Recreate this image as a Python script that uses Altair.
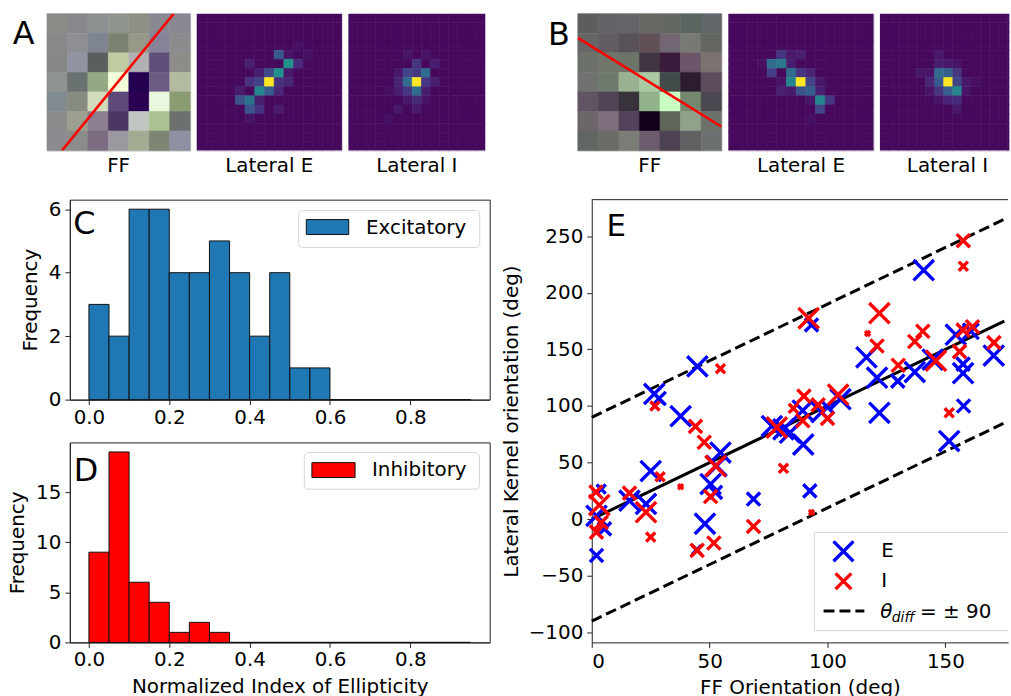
import altair as alt
import pandas as pd

FONT = "DejaVu Sans"

# ---------------- Panels A / B : feed-forward images (7x7 RGB) ----------------
ff_a_colors = [
    ["#8c8c88", "#87888d", "#8d9091", "#90958d", "#8f8f86", "#8a8891", "#898792"],
    ["#888789", "#8e8f94", "#7e8492", "#7a826f", "#979886", "#868298", "#8b8c8e"],
    ["#868885", "#9394a2", "#5a5e5f", "#bfcca2", "#b2b0b4", "#604e7a", "#8d8c88"],
    ["#8e9290", "#6a7271", "#96a784", "#f2ffda", "#240050", "#6c5c84", "#b2baa0"],
    ["#828c90", "#878c80", "#d2dcba", "#5e4a7a", "#2a0052", "#eaf6de", "#8c9c72"],
    ["#8c8c8e", "#9ca090", "#8c8090", "#4c3662", "#c2c6c2", "#aac292", "#6c706e"],
    ["#8c8c90", "#8a8c8a", "#7c6c82", "#9c98a0", "#a2ac92", "#7c8672", "#8c90a0"],
]
ff_b_colors = [
    ["#5c5e5c", "#646266", "#666468", "#686862", "#646862", "#5c6460", "#60666a"],
    ["#666666", "#625c62", "#5a525a", "#605058", "#726672", "#767a72", "#646662"],
    ["#6c726a", "#70766c", "#6c7468", "#403642", "#3c1c3e", "#6c566a", "#7c7272"],
    ["#707270", "#6e7a6e", "#9ab292", "#aacaa2", "#424a4a", "#2c1c30", "#5c4c5c"],
    ["#605462", "#504454", "#38323a", "#92b28a", "#caffc2", "#748870", "#4c4852"],
    ["#6c666a", "#7c6e7a", "#54405a", "#10001a", "#5e665a", "#92a28a", "#6c726a"],
    ["#606662", "#686c64", "#7c7c76", "#6c5c6e", "#4c4252", "#606062", "#6c7070"],
]
# orientation lines drawn over the FF images (image column / row coordinates)
ff_a_line_x = [0.23, 5.69]
ff_a_line_y = [6.5, -0.5]
ff_b_line_x = [-0.5, 6.5]
ff_b_line_y = [0.74, 5.28]

# ---------------- Lateral kernels (15x15), sparse (row, col, value) ----------------
lat_bg = 0.02
lat_a_e = [(7, 7, 1.0), (5, 9, 0.5), (6, 8, 0.5), (4, 8, 0.28), (5, 10, 0.12), (8, 6, 0.45),
           (9, 5, 0.38), (9, 4, 0.25), (10, 5, 0.25), (10, 6, 0.14), (7, 6, 0.2), (7, 5, 0.14),
           (8, 7, 0.28), (7, 8, 0.14), (7, 9, 0.1), (5, 5, 0.08), (6, 6, 0.08), (6, 7, 0.22),
           (8, 4, 0.07), (8, 8, 0.1), (10, 8, 0.07), (6, 9, 0.06), (4, 9, 0.05), (9, 6, 0.08),
           (11, 5, 0.05), (3, 10, 0.04), (4, 11, 0.04)]
lat_a_i = [(7, 7, 1.0), (7, 6, 0.35), (6, 8, 0.35), (8, 7, 0.35), (6, 6, 0.2), (6, 7, 0.16),
           (7, 8, 0.15), (8, 6, 0.15), (5, 7, 0.15), (7, 5, 0.1), (9, 7, 0.12), (7, 9, 0.08),
           (8, 5, 0.08), (5, 9, 0.08), (9, 6, 0.06), (10, 5, 0.06), (10, 7, 0.06), (4, 8, 0.05),
           (4, 6, 0.05), (8, 8, 0.08), (6, 5, 0.06), (9, 8, 0.05), (8, 4, 0.04), (11, 4, 0.04)]
lat_b_e = [(7, 7, 1.0), (5, 4, 0.35), (5, 5, 0.4), (4, 5, 0.15), (6, 4, 0.18), (6, 6, 0.35),
           (7, 6, 0.45), (6, 7, 0.15), (7, 8, 0.2), (8, 7, 0.25), (8, 8, 0.3), (9, 9, 0.45),
           (9, 10, 0.15), (10, 9, 0.2), (6, 8, 0.1), (4, 7, 0.08), (8, 5, 0.08), (8, 9, 0.08),
           (5, 6, 0.08), (4, 6, 0.06), (7, 9, 0.06), (9, 8, 0.06), (8, 6, 0.06), (5, 3, 0.04),
           (11, 8, 0.04), (7, 5, 0.05)]
lat_b_i = [(7, 7, 1.0), (6, 6, 0.35), (6, 7, 0.3), (7, 8, 0.2), (8, 8, 0.45), (8, 7, 0.3),
           (8, 6, 0.15), (7, 6, 0.28), (6, 8, 0.15), (7, 5, 0.1), (9, 8, 0.12), (9, 7, 0.1),
           (4, 6, 0.06), (6, 4, 0.06), (5, 6, 0.08), (10, 8, 0.06), (5, 7, 0.06), (7, 9, 0.06),
           (6, 5, 0.05), (8, 9, 0.05), (5, 8, 0.05), (9, 6, 0.05), (8, 5, 0.05), (7, 10, 0.04)]

# ---------------- Panels C / D : histograms ----------------
hist_edges = [0.0, 0.05, 0.1, 0.15, 0.2, 0.25, 0.3, 0.35, 0.4, 0.45, 0.5,
              0.55, 0.6, 0.65, 0.7, 0.75, 0.8, 0.85, 0.9, 0.95]
exc_counts = [3, 2, 6, 6, 4, 4, 5, 4, 2, 4, 1, 1, 0, 0, 0, 0, 0, 0, 0]
inh_counts = [9, 19, 6, 4, 1, 2, 1, 0, 0, 0, 0, 0, 0, 0, 0, 0, 0, 0, 0]
hist_xticks = [0.0, 0.2, 0.4, 0.6, 0.8]

# ---------------- Panel E : orientation scatter ----------------
e_x = [26.5, 28.6, 37.7, 44.8, 93.2, 140.8, 116.5, 121.0, 122.0, 129.8, 137.0, 144.6, 154.4, 160.8,
       157.5, 157.5, 157.7, 170.5, 151.6, 89.7, 92.5, 89.5, 97.5, 105.5, 76.4, 81.3, 84.1, 54.6,
       52.9, 50.4, 52.5, 48.0, 44.5, 68.6, 25.0, 16.0, 23.0, 4.0, 2.0, 5.4, 2.0, 100.0]
e_y = [110.7, 106.6, 91.0, 135.0, 171.6, 220.0, 143.0, 125.0, 94.0, 122.0, 130.0, 141.0, 163.0, 166.0,
       137.0, 129.0, 100.0, 144.5, 69.0, 66.0, 25.0, 96.0, 94.5, 106.0, 82.3, 79.4, 76.4, 58.9,
       47.0, 31.0, 23.7, -4.0, -27.0, 17.8, 42.5, 16.4, 13.5, 26.6, 3.0, -8.5, -32.0, 99.0]
e_mag = [1.0, 0.42, 1.0, 1.0, 0.42, 1.0, 1.0, 1.0, 1.0, 0.42, 1.0, 1.0, 1.0, 0.6,
         0.42, 1.0, 0.42, 1.0, 1.0, 1.0, 0.42, 1.0, 1.0, 1.0, 1.0, 1.0, 1.0, 1.0,
         1.0, 1.0, 0.42, 1.0, 0.2, 0.42, 1.0, 1.0, 1.0, 0.2, 1.0, 0.42, 0.42, 0.42]
i_x = [26.8, 44.0, 54.6, 92.0, 157.6, 157.6, 122.0, 117.0, 121.0, 130.0, 137.0, 140.4, 146.0, 156.0,
       157.5, 161.5, 151.6, 170.6, 90.0, 85.5, 96.0, 100.0, 104.5, 89.5, 78.5, 81.3, 93.2, 47.7,
       52.5, 50.4, 51.8, 44.7, 68.6, 29.0, 37.7, 16.0, 23.0, 25.0, 1.8, 3.2, 4.0, 2.0]
i_y = [100.0, 82.0, 133.0, 177.5, 246.0, 223.5, 182.0, 164.0, 153.0, 136.0, 157.0, 166.0, 140.0, 148.0,
       167.0, 170.0, 94.0, 156.0, 108.7, 98.0, 101.0, 89.0, 110.0, 87.0, 81.0, 45.0, 6.0, 68.0,
       47.0, 20.0, -21.0, -27.5, -6.4, 37.5, 28.7, 23.0, 6.2, -15.8, 24.0, 12.5, -3.0, -11.4]
i_mag = [0.2, 0.42, 0.2, 1.0, 0.42, 0.2, 1.0, 0.06, 0.42, 0.42, 0.42, 0.42, 1.0, 0.42,
         0.42, 0.42, 0.2, 0.42, 0.42, 0.2, 0.42, 0.42, 1.0, 0.42, 1.0, 0.2, 0.06, 0.42,
         1.0, 0.42, 0.42, 0.42, 0.42, 0.2, 0.06, 0.42, 1.0, 0.2, 0.42, 1.0, 0.42, 0.42]
ref_x0 = [0, 0, 0]
ref_y0 = [0, 90, -90]
ref_x1 = [175, 175, 175]
ref_y1 = [175, 265, 85]
ref_kind = ["fit", "bound", "bound"]
e_xticks = [0, 50, 100, 150]
e_yticks = [-100, -50, 0, 50, 100, 150, 200, 250]

XSHAPE = "M-1,-1L1,1M-1,1L1,-1"
ONE = pd.DataFrame({"k": [0]})


def txt(text, x, y, size=20, align="left", baseline="alphabetic", style="normal"):
    return alt.Chart(pd.DataFrame({"t": [text]})).mark_text(
        font=FONT, fontSize=size, align=align, baseline=baseline, fontStyle=style, color="black"
    ).encode(x=alt.value(x), y=alt.value(y), text="t:N")


def anchor(x0, y0):
    """Invisible half-pixel box that pins a layout bound."""
    return alt.Chart(ONE).mark_rect(fill="white", opacity=0, strokeWidth=0).encode(
        x=alt.value(x0), x2=alt.value(x0 + 0.5), y=alt.value(y0), y2=alt.value(y0 + 0.5))


def hline(x0, x1, y, color="#d6d6d6"):
    return alt.Chart(ONE).mark_rule(color=color, strokeWidth=1).encode(
        x=alt.value(x0), x2=alt.value(x1), y=alt.value(y))


def vline(x, y0, y1, color="#d6d6d6"):
    return alt.Chart(ONE).mark_rule(color=color, strokeWidth=1).encode(
        x=alt.value(x), y=alt.value(y0), y2=alt.value(y1))


HEAT_H = 137.6


def heat_label(label, x):
    return txt(label, x, HEAT_H + 5, align="center", baseline="top")


def ff_panel(colors, lx, ly, width, letter, lx_pix, ly_pix, extra):
    rows = []
    for r, row in enumerate(colors):
        for c, col in enumerate(row):
            rows.append({"c0": c - 0.5, "c1": c + 0.5, "r0": r - 0.5, "r1": r + 0.5, "col": col})
    df = pd.DataFrame(rows)
    xs = alt.Scale(domain=[-0.5, 6.5], nice=False, zero=False)
    ys = alt.Scale(domain=[-0.5, 6.5], nice=False, zero=False, reverse=True)
    img = alt.Chart(df).mark_rect(strokeWidth=0.6).encode(
        x=alt.X("c0:Q", scale=xs, axis=None), x2="c1",
        y=alt.Y("r0:Q", scale=ys, axis=None), y2="r1",
        fill=alt.Fill("col:N", scale=None), stroke=alt.Stroke("col:N", scale=None))
    line = alt.Chart(pd.DataFrame({"x": lx, "y": ly})).mark_line(
        color="#ff0000", strokeWidth=2.6, clip=True).encode(
        x=alt.X("x:Q", scale=xs, axis=None), y=alt.Y("y:Q", scale=ys, axis=None))
    let = txt(letter, lx_pix, ly_pix, size=32)
    return alt.layer(img, line, let, heat_label("FF", width / 2), *extra).properties(
        width=width, height=HEAT_H, view=alt.ViewBackground(stroke="#d4d4d4", strokeWidth=1))


def lateral_panel(cells, width, label, xmax=14.5, label_x=None, extra=()):
    vals = {(r, c): v for r, c, v in cells}
    rows = []
    for r in range(15):
        for c in range(15):
            rows.append({"c0": c - 0.5, "c1": c + 0.5, "r0": r - 0.5, "r1": r + 0.5,
                         "v": vals.get((r, c), lat_bg)})
    df = pd.DataFrame(rows)
    cs = alt.Scale(scheme="viridis", domain=[0, 1])
    img = alt.Chart(df).mark_rect(strokeWidth=0.6, clip=True).encode(
        x=alt.X("c0:Q", scale=alt.Scale(domain=[-0.5, xmax], nice=False, zero=False), axis=None),
        x2="c1",
        y=alt.Y("r0:Q", scale=alt.Scale(domain=[-0.5, 14.5], nice=False, zero=False, reverse=True),
                axis=None),
        y2="r1",
        fill=alt.Fill("v:Q", scale=cs, legend=None),
        stroke=alt.Stroke("v:Q", scale=cs, legend=None))
    lx = width / 2 if label_x is None else label_x
    return alt.layer(img, heat_label(label, lx), *extra).properties(
        width=width, height=HEAT_H, view=alt.ViewBackground(stroke="#d8d0e0", strokeWidth=1))


# Layout (target pixels): A-FF left 45.7, top 11; B-FF left 577.3
aff = ff_panel(ff_a_colors, ff_a_line_x, ff_a_line_y, 144, "A", -34.3, 30.5,
               [anchor(-45, -11), anchor(-45, HEAT_H + 35.5)])
ae = lateral_panel(lat_a_e, 146, "Lateral E")
ai = lateral_panel(lat_a_i, 137.5, "Lateral I", extra=[anchor(137.5 + 10, 20)])
bff = ff_panel(ff_b_colors, ff_b_line_x, ff_b_line_y, 144.5, "B", -30.0, 31.0,
               [anchor(-40, 20)])
be = lateral_panel(lat_b_e, 146, "Lateral E")
bi = lateral_panel(lat_b_i, 130, "Lateral I", xmax=-0.5 + 15 * 130 / 137.5, label_x=68)


def spacer():
    return alt.Chart(ONE).mark_rect(fill="white", opacity=0, strokeWidth=0).encode(
        x=alt.value(0), x2=alt.value(0.5), y=alt.value(0), y2=alt.value(0.5)).properties(
        width=0.5, height=0.5, view=alt.ViewBackground(stroke=None))


top = alt.hconcat(
    spacer(),
    alt.hconcat(
        alt.hconcat(aff, ae, ai, spacing=6.5, bounds="flush"),
        alt.hconcat(bff, be, bi, spacing=6.3, bounds="flush"),
        spacing=40.6),
    spacing=0)


# ---------------- histograms ----------------
def hist_panel(counts, color, ymax, yticks, letter, lpos, box, patch, label_xy, label, xtitle, extra):
    df = pd.DataFrame({"b0": hist_edges[:-1], "b1": hist_edges[1:], "n": counts})
    if xtitle:
        xaxis = alt.Axis(values=hist_xticks, format=".1f", title=xtitle, titlePadding=7,
                         labelPadding=2)
    else:
        xaxis = alt.Axis(values=hist_xticks, format=".1f", title=None, labelPadding=3)
    bars = alt.Chart(df).mark_rect(color=color, stroke="#111111", strokeWidth=1).encode(
        x=alt.X("b0:Q", scale=alt.Scale(domain=[-0.0475, 0.9975], nice=False, zero=False), axis=xaxis),
        x2="b1",
        y=alt.Y("n:Q", scale=alt.Scale(domain=[0, ymax], nice=False),
                axis=alt.Axis(values=yticks, title="Frequency", titlePadding=8)),
        y2=alt.datum(0))
    let = txt(letter, lpos[0], lpos[1], size=32)
    legbox = alt.Chart(ONE).mark_rect(fill="white", fillOpacity=0.8, stroke="#d6d6d6",
                                      strokeWidth=1, cornerRadius=4).encode(
        x=alt.value(box[0]), x2=alt.value(box[1]), y=alt.value(box[2]), y2=alt.value(box[3]))
    legpatch = alt.Chart(ONE).mark_rect(fill=color, stroke="#111111", strokeWidth=1).encode(
        x=alt.value(patch[0]), x2=alt.value(patch[1]), y=alt.value(patch[2]), y2=alt.value(patch[3]))
    legtext = txt(label, label_xy[0], label_xy[1], baseline="middle")
    return alt.layer(bars, let, legbox, legpatch, legtext, *extra).properties(width=422, height=201)


hist_c = hist_panel(exc_counts, "#1f77b4", 6.3, [0, 2, 4, 6], "C", (3.5, 35),
                    (230, 412, 11, 48), (237.7, 280.3, 20, 35), (297.7, 28.3), "Excitatory", None,
                    [anchor(0, -10), anchor(423.5, 20)])
hist_d = hist_panel(inh_counts, "#ff0000", 19.95, [0, 5, 10, 15], "D", (4, 38.7),
                    (235.7, 411.7, 10.3, 47), (243.3, 286.7, 20.3, 35.3), (303.7, 27.7), "Inhibitory",
                    "Normalized Index of Ellipticity", [anchor(-68, 20)])

# ---------------- scatter E ----------------
EW, EH = 418.5, 445
xs_e = alt.Scale(domain=[0, 176.6], nice=False, zero=False)
ys_e = alt.Scale(domain=[-108.8, 282.25], nice=False, zero=False)
size_sc = alt.Scale(domain=[0, 1], range=[0, 420])
minus = "replace(datum.label, '-', '\u2212')"

refs = pd.DataFrame({"x0": ref_x0, "y0": ref_y0, "x1": ref_x1, "y1": ref_y1, "kind": ref_kind})

fit_line = alt.Chart(refs).transform_filter(alt.datum.kind == "fit").mark_rule(
    color="black", strokeWidth=3).encode(
    x=alt.X("x0:Q", scale=xs_e, axis=alt.Axis(values=e_xticks, title="FF Orientation (deg)",
                                              titlePadding=6.5)),
    y=alt.Y("y0:Q", scale=ys_e, axis=alt.Axis(values=e_yticks, labelExpr=minus,
                                              title="Lateral Kernel orientation (deg)", titlePadding=7)),
    x2="x1", y2="y1")
bound_lines = alt.Chart(refs).transform_filter(alt.datum.kind == "bound").mark_rule(
    color="black", strokeWidth=3, strokeDash=[11, 5]).encode(
    x=alt.X("x0:Q", scale=xs_e), y=alt.Y("y0:Q", scale=ys_e), x2="x1", y2="y1")

e_df = pd.DataFrame({"x": e_x, "y": e_y, "m": e_mag})
i_df = pd.DataFrame({"x": i_x, "y": i_y, "m": i_mag})
e_pts = alt.Chart(e_df).mark_point(shape=XSHAPE, filled=False, color="#0000ff", strokeWidth=3.4,
                                   opacity=1).encode(
    x=alt.X("x:Q", scale=xs_e), y=alt.Y("y:Q", scale=ys_e),
    size=alt.Size("m:Q", scale=size_sc, legend=None))
i_pts = alt.Chart(i_df).mark_point(shape=XSHAPE, filled=False, color="#ff0000", strokeWidth=3.4,
                                   opacity=1).encode(
    x=alt.X("x:Q", scale=xs_e), y=alt.Y("y:Q", scale=ys_e),
    size=alt.Size("m:Q", scale=size_sc, legend=None))

top_spine = hline(0, EW, 0, color="#222222")
e_letter = txt("E", 14.7, 36.7, size=31)

LB = (223.7, EW, 334.5, 433.2)
leg_fill = alt.Chart(ONE).mark_rect(fill="white", fillOpacity=0.8, strokeWidth=0).encode(
    x=alt.value(LB[0]), x2=alt.value(LB[1]), y=alt.value(LB[2]), y2=alt.value(LB[3]))
leg_border = [hline(LB[0], LB[1], LB[2]), hline(LB[0], LB[1], LB[3]), vline(LB[0], LB[2], LB[3])]
leg_e = alt.Chart(ONE).mark_point(shape=XSHAPE, filled=False, color="#0000ff", strokeWidth=3.4,
                                  opacity=1, size=400).encode(x=alt.value(253), y=alt.value(353.5))
leg_i = alt.Chart(ONE).mark_point(shape=XSHAPE, filled=False, color="#ff0000", strokeWidth=3.4,
                                  opacity=1, size=250).encode(x=alt.value(253), y=alt.value(383.5))
leg_dash = alt.Chart(ONE).mark_rule(color="black", strokeWidth=3, strokeDash=[11, 5]).encode(
    x=alt.value(233), x2=alt.value(274), y=alt.value(413.5))
leg_t1 = txt("E", 291, 353.5, baseline="middle")
leg_t2 = txt("I", 291, 383.5, baseline="middle")
leg_t3 = txt("\u03b8", 290, 420.5, style="italic")
leg_t4 = txt("diff", 301.5, 424.5, size=14, style="italic")
leg_t5 = txt("= \u00b1 90", 330, 420.5)

scatter_e = alt.layer(
    fit_line, bound_lines, e_pts, i_pts, top_spine, e_letter,
    leg_fill, *leg_border, leg_e, leg_i, leg_dash, leg_t1, leg_t2, leg_t3, leg_t4, leg_t5,
    anchor(-97, -10)
).properties(width=EW, height=EH, view=alt.ViewBackground(stroke=None))

bottom = alt.hconcat(
    spacer(),
    alt.hconcat(alt.vconcat(hist_c, hist_d, spacing=43, bounds="flush"), scatter_e, spacing=2.6),
    spacing=0)

chart = alt.vconcat(top, bottom, spacing=0.9).properties(
    padding={"left": 0.2, "top": 0, "right": 0, "bottom": -2},
    background="white",
).configure_view(stroke="#222222", strokeWidth=1).configure_axis(
    labelFont=FONT, labelFontSize=20, labelColor="black",
    titleFont=FONT, titleFontSize=20, titleFontWeight="normal", titleColor="black",
    tickSize=5, tickColor="#222222", tickWidth=1, domainColor="#222222", domainWidth=1,
    grid=False, labelPadding=4, titlePadding=6,
)

chart.save("out.html", embed_options={"renderer": "svg", "actions": False})
